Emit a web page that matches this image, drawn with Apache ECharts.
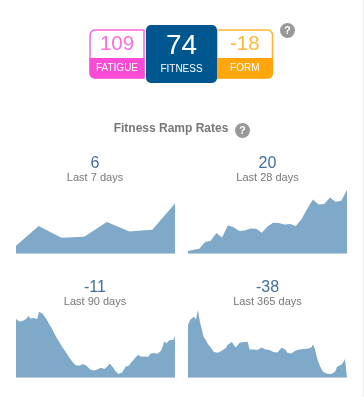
<!DOCTYPE html>
<html><head><meta charset="utf-8">
<style>html,body{margin:0;padding:0;background:#fff}#c{width:364px;height:397px}</style>
<script src="https://cdn.jsdelivr.net/npm/echarts@6/dist/echarts.min.js"></script>
</head><body><div id="c"></div>
<script>
const tiles = [
  {value:'109', label:'FATIGUE', color:'#f94bd6'},
  {value:'74', label:'FITNESS', color:'#00568f'},
  {value:'-18', label:'FORM', color:'#ffa60d'}
];
const sectionTitle = 'Fitness Ramp Rates';
const rampValues = ['6','20','-11','-38'];
const rampLabels = ['Last 7 days','Last 28 days','Last 90 days','Last 365 days'];
const last7 = [8,27.7,16,17,31.7,22.3,24,50.3];
const last28 = [2.7,4,5,11.7,13,20.7,16.3,28.3,26.7,22.7,23.3,25.3,25,21,27.3,31,30.7,29.3,29.7,27.7,34.7,45,54.3,49.3,49.7,56.3,52,53,64];
const last90 = [58.7,56.7,56.3,56.7,57,57,59.3,62,59.3,60.3,59.7,60.3,58.7,66,66.7,64.3,61.7,59.3,56.3,53,50,47,43.3,40,37.3,34.3,31.3,28.7,26.3,23.3,20.7,18.3,15.7,14,12.3,12,12.3,12.3,13.7,12.3,11.7,10.7,8.3,7.3,7.3,8,8.3,8,10,8.7,8.7,8.7,11.7,14.3,12.3,10,7.3,5.3,3.7,2.7,5.3,8,11,11.7,12.3,14.7,16,19,19.3,22.7,21.3,21,21.7,21.3,22,21,24,24.7,24.7,24.3,24,23.3,26.7,31,36.7,34.3,36,37.7,35.7,37.7,41.7];
const last365 = [52.7,57.7,59,61,58.3,67.7,56,47.7,40.3,37.7,33.7,32,28.7,25.7,27,25,26.3,27,27.7,29.7,33,34.3,35.7,37.3,30.3,30.3,35,36.7,35.7,36,36,28.3,27,28.3,27.7,27.7,29.3,30.3,28.3,28.3,29,27.7,29,25.7,24.7,25.3,26.7,30,31,28.3,25,23.3,24.3,26,27,29,28.3,28.3,28.7,28.7,29,29.7,30.3,33.3,27.7,19.3,13.7,9.3,5.7,4.3,4,5.7,3.7,1.7,6,11,11.7,12.7,15,18.7,19.3];
const series = [last7,last28,last90,last365];
const grids = [
  {left:16,top:150,width:159,height:103.7},
  {left:188,top:150,width:159,height:103.7},
  {left:16,top:274,width:159,height:103.7},
  {left:188,top:274,width:159,height:103.7}
];
const font = 'Liberation Sans, Arial, sans-serif';
const tileBoxes = [[90,30,54,48],[146,25,71,58],[217,30,55.5,48]];
const g = [];
function txt(x,y,s,size,fill,extra){g.push({type:'text',x:x,y:y,z:20,style:Object.assign({text:s,fontFamily:font,fontSize:size,fill:fill,align:'center',verticalAlign:'middle'},extra||{})});}
[0,2].forEach(i=>{
  const b=tileBoxes[i],c=tiles[i].color;
  const left=i===0, r=left?[5,0,0,5]:[0,5,5,0];
  g.push({type:'rect',z:5,shape:{x:b[0],y:b[1],width:b[2],height:b[3],r:r},style:{fill:'#fff',stroke:c,lineWidth:1.5,opacity:.85}});
  g.push({type:'rect',z:6,shape:{x:b[0]-.5,y:b[1]+28,width:b[2]+1,height:b[3]-27.5,r:left?[0,0,0,5]:[0,0,5,0]},style:{fill:c}});
  txt(b[0]+b[2]/2,b[1]+14.5,tiles[i].value,20.5,c,{opacity:.8});
  txt(b[0]+b[2]/2,b[1]+38,tiles[i].label,10,'#fff');
});
{const b=tileBoxes[1];
 g.push({type:'rect',z:8,shape:{x:b[0],y:b[1],width:b[2],height:b[3],r:5},style:{fill:tiles[1].color}});
 txt(b[0]+b[2]/2,b[1]+21,tiles[1].value,28,'#fff');
 txt(b[0]+b[2]/2,b[1]+44,tiles[1].label,10,'#fff');}
function help(x,y){
  g.push({type:'circle',z:10,shape:{cx:x,cy:y,r:7.5},style:{fill:'#999'}});
  txt(x,y+.5,'?',10.5,'#fff',{fontWeight:'bold'});
}
help(287.5,30.5);
help(242.5,130.5);
txt(171,129,sectionTitle,12,'#777',{fontWeight:'bold'});
const centers=[[95,164,178],[267.5,164,178],[95,288,302],[267.5,288,302]];
centers.forEach((c,i)=>{
  txt(c[0],c[1],rampValues[i],16,'#3f6f9c');
  txt(c[0],c[2],rampLabels[i],11,'#777');
});
g.push({type:'rect',z:1,shape:{x:363,y:0,width:1,height:397},style:{fill:'#ececec'}});
const chart=echarts.init(document.getElementById('c'),null,{renderer:'canvas'});
chart.setOption({
  animation:false,
  grid:grids,
  xAxis:series.map((s,i)=>({type:'category',gridIndex:i,boundaryGap:false,data:s.map((_,k)=>k),show:false})),
  yAxis:series.map((s,i)=>({type:'value',gridIndex:i,min:0,max:103.7,show:false})),
  series:series.map((s,i)=>({type:'line',xAxisIndex:i,yAxisIndex:i,data:s,symbol:'none',silent:true,
    lineStyle:{width:0},itemStyle:{color:'#7fa9c9'},areaStyle:{color:'#7fa9c9',opacity:1}})),
  graphic:g
});
</script></body></html>
